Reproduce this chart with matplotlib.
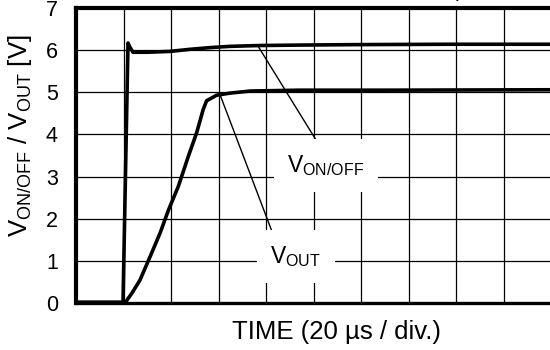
import matplotlib
matplotlib.use("Agg")
import matplotlib.pyplot as plt

plt.rcParams["font.family"] = ["Liberation Sans", "DejaVu Sans"]
plt.rcParams["mathtext.default"] = "regular"

# Time axis in microseconds (20 us per division)
t_onoff = [0, 19.8, 21.9, 22.6, 24.0, 30.0, 39.6, 48.0, 56.4, 64.8, 77.5, 94.0, 115.0, 157.0, 200.0]
v_onoff = [0.02, 0.02, 6.17, 6.08, 5.95, 5.95, 5.97, 6.02, 6.06, 6.09, 6.11, 6.12, 6.13, 6.14, 6.14]

t_out = [0, 20.6, 23.5, 26.9, 31.2, 35.4, 38.9, 43.1, 47.3, 50.8, 53.6, 55.0, 59.2, 64.8, 73.5, 94.0, 130.0, 200.0]
v_out = [0, 0, 0.23, 0.54, 1.10, 1.66, 2.20, 2.77, 3.48, 4.04, 4.60, 4.80, 4.93, 4.98, 5.03, 5.05, 5.05, 5.06]

y_ticks = [0, 1, 2, 3, 4, 5, 6, 7]
x_ticks = list(range(0, 201, 20))

# Leader lines: (trace point) -> (label)
lead_onoff = ([76.6, 104.0], [6.10, 3.60])
lead_out = ([60.6, 82.9], [4.95, 1.64])

fig = plt.figure(figsize=(5.5, 3.5), dpi=100)
ax = fig.add_axes([76 / 550, 47 / 350, 475 / 550, 295 / 350])

ax.set_xlim(0, 200)
ax.set_ylim(0, 7)
ax.set_xticks(x_ticks)
ax.set_yticks(y_ticks)
ax.set_xticklabels([])
ax.set_yticklabels([str(v) for v in y_ticks], fontsize=15.5)
ax.tick_params(length=0, pad=13)
ax.grid(True, color="black", linewidth=0.9, zorder=0)
ax.set_axisbelow(True)

for side in ("left", "top"):
    ax.spines[side].set_linewidth(3.0)
ax.spines["bottom"].set_linewidth(2.4)
ax.spines["right"].set_visible(False)

ax.plot(t_out, v_out, color="black", linewidth=2.6, solid_joinstyle="round", zorder=3)
ax.plot(t_onoff, v_onoff, color="black", linewidth=2.6, solid_joinstyle="round", zorder=3)

ax.plot(*lead_onoff, color="black", linewidth=1.0, zorder=2)
ax.plot(*lead_out, color="black", linewidth=1.0, zorder=2)

box = dict(boxstyle="square,pad=0.6", facecolor="white", edgecolor="none")
ax.text(105.3, 3.26, "$V_{ON/OFF}$", fontsize=16.5, ha="center", va="center", bbox=box, zorder=4)
ax.text(92.6, 1.10, "$V_{OUT}$", fontsize=16.5, ha="center", va="center", bbox=box, zorder=4)

fig.text(336 / 550, 1 - 339 / 350, "TIME (20 µs / div.)", fontsize=18.5, ha="center", va="baseline")
fig.text(20 / 550, 1 - 136 / 350, "$V_{ON/OFF}$ / $V_{OUT}$ [V]", fontsize=18.5,
         rotation=90, ha="center", va="center")
fig.text(137 / 550, 1 + 3 / 350, "$V_{IN}$ = 6.0 V, $I_{OUT}$ = 0 mA, $C_{L}$ = 1.0 µF",
         fontsize=15, ha="left", va="baseline")

fig.savefig("out.png", dpi=100)
